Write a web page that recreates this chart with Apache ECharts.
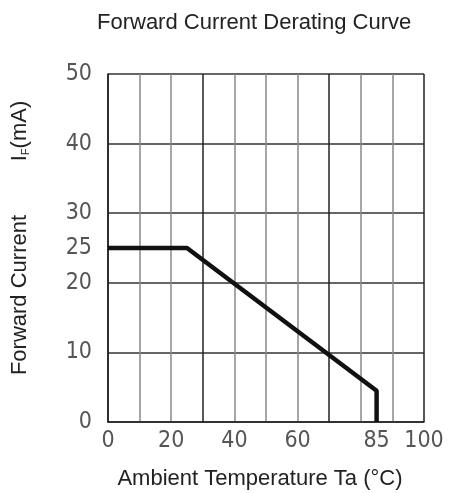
<!DOCTYPE html>
<html>
<head>
<meta charset="utf-8">
<script src="https://cdn.jsdelivr.net/npm/echarts@6/dist/echarts.min.js"></script>
<style>
html,body{margin:0;padding:0;background:#fff;}
#c{width:454px;height:493px;}
</style>
</head>
<body>
<div id="c"></div>
<script>
const titleText = 'Forward Current Derating Curve';
const xName = 'Ambient Temperature Ta (°C)';
const yNameMain = 'Forward Current';
const xTickLabels = [0, 20, 40, 60, 85, 100];
const yTickLabels = [0, 10, 20, 25, 30, 40, 50];
const temperature = [0, 25, 85, 85];
const currentMA = [25, 25, 4.5, 0];

const curve = temperature.map((t, i) => [t, currentMA[i]]);
const tickFont = "'Liberation Sans Narrow','DejaVu Sans Condensed','Liberation Sans',sans-serif";
const textFont = "'Liberation Sans',Arial,sans-serif";

const chart = echarts.init(document.getElementById('c'));
chart.setOption({
  animation: false,
  backgroundColor: '#fff',
  title: {
    text: titleText, left: 92, top: 7,
    textStyle: {fontFamily: textFont, fontSize: 22, fontWeight: 'normal', color: '#222'}
  },
  grid: {left: 108, right: 30, top: 74, bottom: 71, containLabel: false},
  xAxis: {
    type: 'value', min: 0, max: 100, interval: 10,
    axisLine: {show: true, lineStyle: {color: '#222', width: 1.5}},
    axisTick: {show: false},
    axisLabel: {
      customValues: xTickLabels, margin: 8,
      fontFamily: tickFont, fontSize: 23, color: '#555'
    },
    splitLine: {show: true, lineStyle: {width: 1.5, color: ['#222','#888','#888','#222','#888','#888','#888','#222','#888','#888','#222']}}
  },
  yAxis: {
    type: 'value', min: 0, max: 50, interval: 10,
    axisLine: {show: true, lineStyle: {color: '#222', width: 1.5}},
    axisTick: {show: false},
    axisLabel: {
      customValues: yTickLabels, margin: 16,
      fontFamily: tickFont, fontSize: 23, color: '#555'
    },
    splitLine: {show: true, lineStyle: {width: 1.5, color: '#333'}}
  },
  graphic: [
    {
      type: 'text', x: 260, y: 479,
      style: {text: xName, font: "22px 'Liberation Sans',Arial,sans-serif", fill: '#222', align: 'center', verticalAlign: 'middle'}
    },
    {
      type: 'text', x: 20, y: 295, rotation: Math.PI / 2,
      style: {text: yNameMain, font: "22px 'Liberation Sans',Arial,sans-serif", fill: '#222', align: 'center', verticalAlign: 'middle'}
    },
    {
      type: 'text', x: 20, y: 131, rotation: Math.PI / 2,
      style: {
        text: '{a|I}{s|F}{a|(mA)}',
        align: 'center', verticalAlign: 'middle',
        rich: {
          a: {fontFamily: textFont, fontSize: 22, fill: '#222', color: '#222'},
          s: {fontFamily: textFont, fontSize: 11, fill: '#222', color: '#222', padding: [12, 0, 0, 0]}
        }
      }
    }
  ],
  series: [{
    type: 'line', data: curve, symbol: 'none',
    lineStyle: {color: '#111', width: 4.5},
    z: 5
  }]
});
</script>
</body>
</html>
